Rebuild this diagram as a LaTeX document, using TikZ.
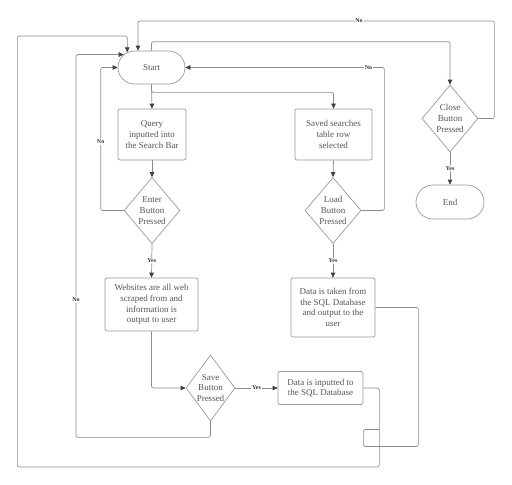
\documentclass[tikz,border=0pt]{standalone}
\usepackage{fontspec}
\setmainfont{Liberation Serif}
\usetikzlibrary{shapes.geometric,shapes.misc,arrows.meta,calc}
\definecolor{ln}{HTML}{8C8C8C}
\definecolor{bd}{HTML}{9A9A9A}
\definecolor{tx}{HTML}{555555}
\definecolor{tip}{HTML}{404040}
\begin{document}
\begin{tikzpicture}[x=1pt,y=-1pt,
 box/.style={draw=bd, line width=0.7pt, rounded corners=2pt, align=center, text=tx, font=\fontsize{9}{10.7}\selectfont, inner sep=0pt},
 term/.style={draw=bd, line width=0.7pt, rounded rectangle, minimum width=67pt, minimum height=33pt, text=tx, font=\fontsize{9}{10.7}\selectfont, inner sep=0pt},
 dia/.style={draw=bd, line width=0.7pt, diamond, inner sep=0pt},
 dtxt/.style={align=center, text=tx, font=\fontsize{9}{10.7}\selectfont, inner sep=0pt},
 conn/.style={draw=ln, line width=0.7pt, rounded corners=2pt},
 arr/.style={conn, -{Triangle[length=5pt,width=4.5pt,color=tip]}},
 lbl/.style={fill=white, font=\fontsize{6}{7}\selectfont\bfseries, text=black!80, inner sep=1pt}
]
\useasboundingbox (0,0) rectangle (512,485);
\fill[white] (0,0) rectangle (512,485);

\node[term] (start) at (151.5,67.5) {Start};
\node[box, minimum width=68pt, minimum height=51pt] (query) at (152,134.5) {Query\\inputted into\\the Search Bar};
\node[dia, minimum width=56pt, minimum height=66pt] (enter) at (152,210.5) {};
\node[dtxt] (entert) at (enter) {Enter\\Button\\Pressed};
\node[box, minimum width=93pt, minimum height=53pt] (web) at (151.5,304.5) {Websites are all web\\scraped from and\\information is\\output to user};
\node[dia, minimum width=49pt, minimum height=66pt] (save) at (210.5,388) {};
\node[dtxt] (savet) at (save) {Save\\Button\\Pressed};
\node[box, minimum width=85pt, minimum height=33pt] (inp) at (320.5,388) {Data is inputted to\\the SQL Database};
\node[box, minimum width=77pt, minimum height=51pt] (saved) at (333.5,134.5) {Saved searches\\table row\\selected};
\node[dia, minimum width=56pt, minimum height=66pt] (load) at (333,210.5) {};
\node[dtxt] (loadt) at (load) {Load\\Button\\Pressed};
\node[box, minimum width=84pt, minimum height=59pt] (taken) at (333,307.5) {Data is taken from\\the SQL Database\\and output to the\\user};
\node[dia, minimum width=56pt, minimum height=67pt] (close) at (450,118.5) {};
\node[dtxt] (closet) at (close) {Close\\Button\\Pressed};
\node[term, minimum width=68pt, minimum height=34pt] (end) at (450,202) {End};

\draw[arr] (start.south) -- (query.north);
\draw[arr] (start.south) -- ++(0,8) -| (saved.north);
\draw[arr] (start.north) -- ++(0,-9) -| (close.north);
\draw[arr] (query.south) -- (enter.north);
\draw[arr] (enter.west) -- ++(-23,0) |- node[lbl,pos=0.24]{No} (start.west);
\draw[arr] (enter.south) -- node[lbl]{Yes} (web.north);
\draw[arr] (web.south) |- (save.west);
\draw[arr] (save.south) -- ++(0,16) -- ++(-134.5,0) |- node[lbl,pos=0.18]{No} (start.155);
\draw[arr] (save.east) -- node[lbl]{Yes} (inp.west);
\draw[arr] (inp.east) -- ++(16,0) -- ++(0,79) -- ++(-362,0) -- ++(0,-431) -| (start.148);
\draw[arr] (saved.south) -- (load.north);
\draw[arr] (load.east) -- ++(23,0) |- node[lbl,pos=0.54]{No} (start.east);
\draw[arr] (load.south) -- node[lbl]{Yes} (taken.north);
\draw[conn] (taken.east) -- ++(43,0) -- ++(0,139) -- ++(-55,0) -- ++(0,-17) -- ++(16,0);
\draw[arr] (close.east) -- ++(16,0) -- ++(0,-97.5) -| node[lbl,pos=0.19]{No} ([xshift=-13.5pt]start.north);
\draw[arr] (close.south) -- node[lbl]{Yes} (end.north);
\end{tikzpicture}
\end{document}
